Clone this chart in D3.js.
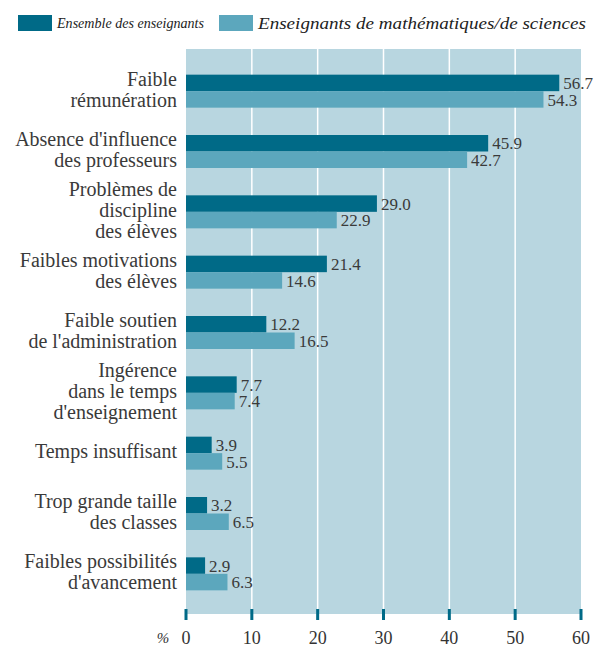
<!DOCTYPE html>
<html>
<head>
<meta charset="utf-8">
<script src="https://cdn.jsdelivr.net/npm/d3@7"></script>
<style>
	body { margin: 0; background: #fff; }
	text { font-family: "Liberation Serif", serif; }
</style>
</head>
<body>
<script>
//wrap everything in a self-executing anonymous function
(function(){

	//categories, each one split into its lines
	var categories = [
		["Faible", "rémunération"],
		["Absence d'influence", "des professeurs"],
		["Problèmes de", "discipline", "des élèves"],
		["Faibles motivations", "des élèves"],
		["Faible soutien", "de l'administration"],
		["Ingérence", "dans le temps", "d'enseignement"],
		["Temps insuffisant"],
		["Trop grande taille", "des classes"],
		["Faibles possibilités", "d'avancement"]
	];
	var seriesNames = ["Ensemble des enseignants", "Enseignants de mathématiques/de sciences"];
	var allTeachers = [56.7, 45.9, 29.0, 21.4, 12.2, 7.7, 3.9, 3.2, 2.9];
	var mathTeachers = [54.3, 42.7, 22.9, 14.6, 16.5, 7.4, 5.5, 6.5, 6.3];
	var tickValues = [0, 10, 20, 30, 40, 50, 60];

	var colors = ["#006a87", "#5ca7bd"];

	var width = 595,
		height = 650;

	var plotLeft = 186,
		plotRight = 581,
		plotTop = 49,
		plotBottom = 614;

	var svg = d3.select("body")
		.append("svg")
		.attr("width", width)
		.attr("height", height);

	//scales
	var x = d3.scaleLinear()
		.domain([0, 60])
		.range([plotLeft, plotRight]);

	var keys = categories.map(function(d){ return d.join(" "); });

	var y = d3.scaleBand()
		.domain(keys)
		.range([61, 604]);

	var pairHeight = 33;
	var ySub = d3.scaleBand()
		.domain(seriesNames)
		.range([0, pairHeight]);

	//background of the plot
	svg.append("rect")
		.attr("x", plotLeft)
		.attr("y", plotTop)
		.attr("width", plotRight - plotLeft)
		.attr("height", plotBottom - plotTop)
		.attr("fill", "#b8d6e0");

	//white grid lines
	svg.selectAll(".grid")
		.data(tickValues.slice(1, -1))
		.enter()
		.append("line")
		.attr("class", "grid")
		.attr("x1", function(d){ return x(d); })
		.attr("x2", function(d){ return x(d); })
		.attr("y1", plotTop)
		.attr("y2", plotBottom)
		.attr("stroke", "#fff")
		.attr("stroke-width", 1.5);

	//rows
	var rows = categories.map(function(c, i){
		return { key: keys[i], lines: c, values: [allTeachers[i], mathTeachers[i]] };
	});

	var group = svg.selectAll(".row")
		.data(rows)
		.enter()
		.append("g")
		.attr("class", "row")
		.attr("transform", function(d){
			return "translate(0," + (y(d.key) + (y.bandwidth() - pairHeight) / 2) + ")";
		});

	group.selectAll("rect")
		.data(function(d){
			return d.values.map(function(v, j){ return { s: seriesNames[j], v: v, j: j }; });
		})
		.enter()
		.append("rect")
		.attr("x", x(0))
		.attr("y", function(d){ return ySub(d.s); })
		.attr("width", function(d){ return x(d.v) - x(0); })
		.attr("height", ySub.bandwidth())
		.attr("fill", function(d){ return colors[d.j]; });

	//value labels
	group.selectAll(".val")
		.data(function(d){
			return d.values.map(function(v, j){ return { s: seriesNames[j], v: v }; });
		})
		.enter()
		.append("text")
		.attr("class", "val")
		.attr("x", function(d){ return x(d.v) + 4; })
		.attr("y", function(d){ return ySub(d.s) + ySub.bandwidth() / 2; })
		.attr("dy", "0.36em")
		.attr("font-size", 17)
		.attr("fill", "#3a3a3a")
		.text(function(d){ return d.v.toFixed(1); });

	//category labels, one text per line
	var lineHeight = 21;
	group.each(function(d){
		var g = d3.select(this);
		var n = d.lines.length;
		d.lines.forEach(function(line, k){
			g.append("text")
				.attr("class", "cat")
				.attr("x", 177)
				.attr("y", pairHeight / 2 - 2 + (k - (n - 1) / 2) * lineHeight)
				.attr("dy", "0.35em")
				.attr("text-anchor", "end")
				.attr("font-size", 20)
				.attr("fill", "#3a3a3a")
				.text(line);
		});
	});

	//tick marks on the bottom
	svg.selectAll(".tick")
		.data(tickValues)
		.enter()
		.append("rect")
		.attr("class", "tick")
		.attr("x", function(d){ return x(d) - 1.5; })
		.attr("y", 609)
		.attr("width", 3)
		.attr("height", 11)
		.attr("fill", "#006a87");

	svg.selectAll(".tickLabel")
		.data(tickValues)
		.enter()
		.append("text")
		.attr("class", "tickLabel")
		.attr("x", function(d){ return x(d); })
		.attr("y", 644)
		.attr("text-anchor", "middle")
		.attr("font-size", 18)
		.attr("fill", "#333")
		.text(function(d){ return d; });

	svg.append("text")
		.attr("x", 163)
		.attr("y", 643)
		.attr("text-anchor", "middle")
		.attr("font-size", 15)
		.attr("font-style", "italic")
		.attr("fill", "#333")
		.text("%");

	//legend
	var legendX = [18, 219];
	var legendTextWidth = [147, 328];
	var legendFont = [15, 17];
	var legend = svg.selectAll(".legend")
		.data(seriesNames)
		.enter()
		.append("g")
		.attr("class", "legend")
		.attr("transform", function(d, i){ return "translate(" + legendX[i] + ",15)"; });

	legend.append("rect")
		.attr("width", 34)
		.attr("height", 16)
		.attr("fill", function(d, i){ return colors[i]; });

	legend.append("text")
		.attr("x", 39)
		.attr("y", 8)
		.attr("dy", "0.35em")
		.attr("font-size", function(d, i){ return legendFont[i]; })
		.attr("font-style", "italic")
		.attr("fill", "#222")
		.attr("textLength", function(d, i){ return legendTextWidth[i]; })
		.attr("lengthAdjust", "spacingAndGlyphs")
		.text(function(d){ return d; });

})();
</script>
</body>
</html>
